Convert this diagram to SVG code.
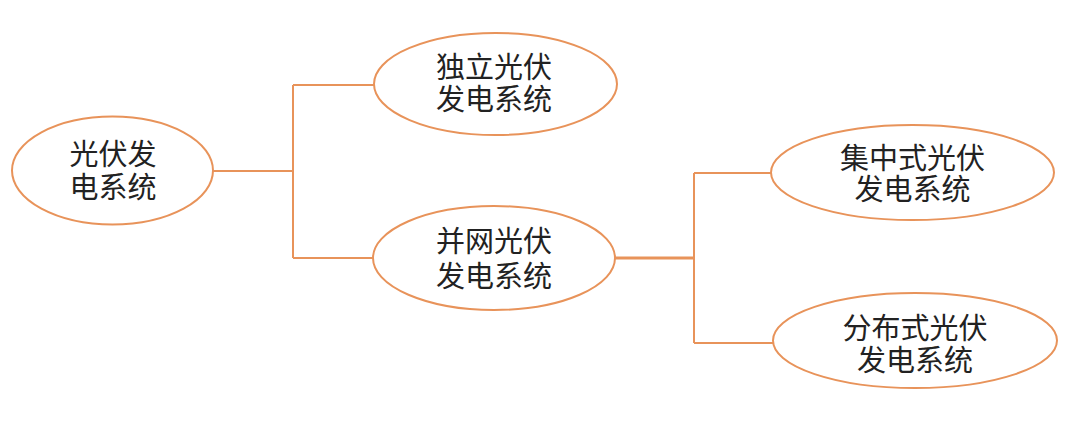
<svg xmlns="http://www.w3.org/2000/svg" width="1080" height="424" viewBox="0 0 1080 424">
<style>
.n ellipse{fill:#fff;stroke:#E8935A;stroke-width:2}
.n text{font-family:"Noto Sans CJK SC","Noto Sans",sans-serif;font-size:29px;fill:#222;text-anchor:middle}
.c path{fill:none;stroke:#E8935A;stroke-width:2}
</style>
<rect width="1080" height="424" fill="#fff"/>
<g class="c" id="connectors">
<path d="M213 171H293M293 85V258M293 85H374M293 258H373"/>
<path d="M615 258H694" style="stroke-width:3"/>
<path d="M694 173V343M694 173H771M694 343H773"/>
</g>
<g class="n" id="n1"><ellipse cx="112.5" cy="170.5" rx="100.5" ry="54"/><text><tspan x="113" y="165">光伏发</tspan><tspan x="113" y="197.5">电系统</tspan></text></g>
<g class="n" id="n2"><ellipse cx="495.5" cy="84" rx="121.5" ry="51"/><text><tspan x="494" y="77.5">独立光伏</tspan><tspan x="494" y="110">发电系统</tspan></text></g>
<g class="n" id="n3"><ellipse cx="494" cy="258" rx="121" ry="52"/><text><tspan x="494" y="252">并网光伏</tspan><tspan x="494" y="287">发电系统</tspan></text></g>
<g class="n" id="n4"><ellipse cx="912.5" cy="172.5" rx="141.5" ry="47.5"/><text><tspan x="912.5" y="168.5">集中式光伏</tspan><tspan x="912.5" y="199.5">发电系统</tspan></text></g>
<g class="n" id="n5"><ellipse cx="915" cy="340.5" rx="142" ry="47.5"/><text><tspan x="915" y="338.5">分布式光伏</tspan><tspan x="915" y="370.5">发电系统</tspan></text></g>
</svg>
